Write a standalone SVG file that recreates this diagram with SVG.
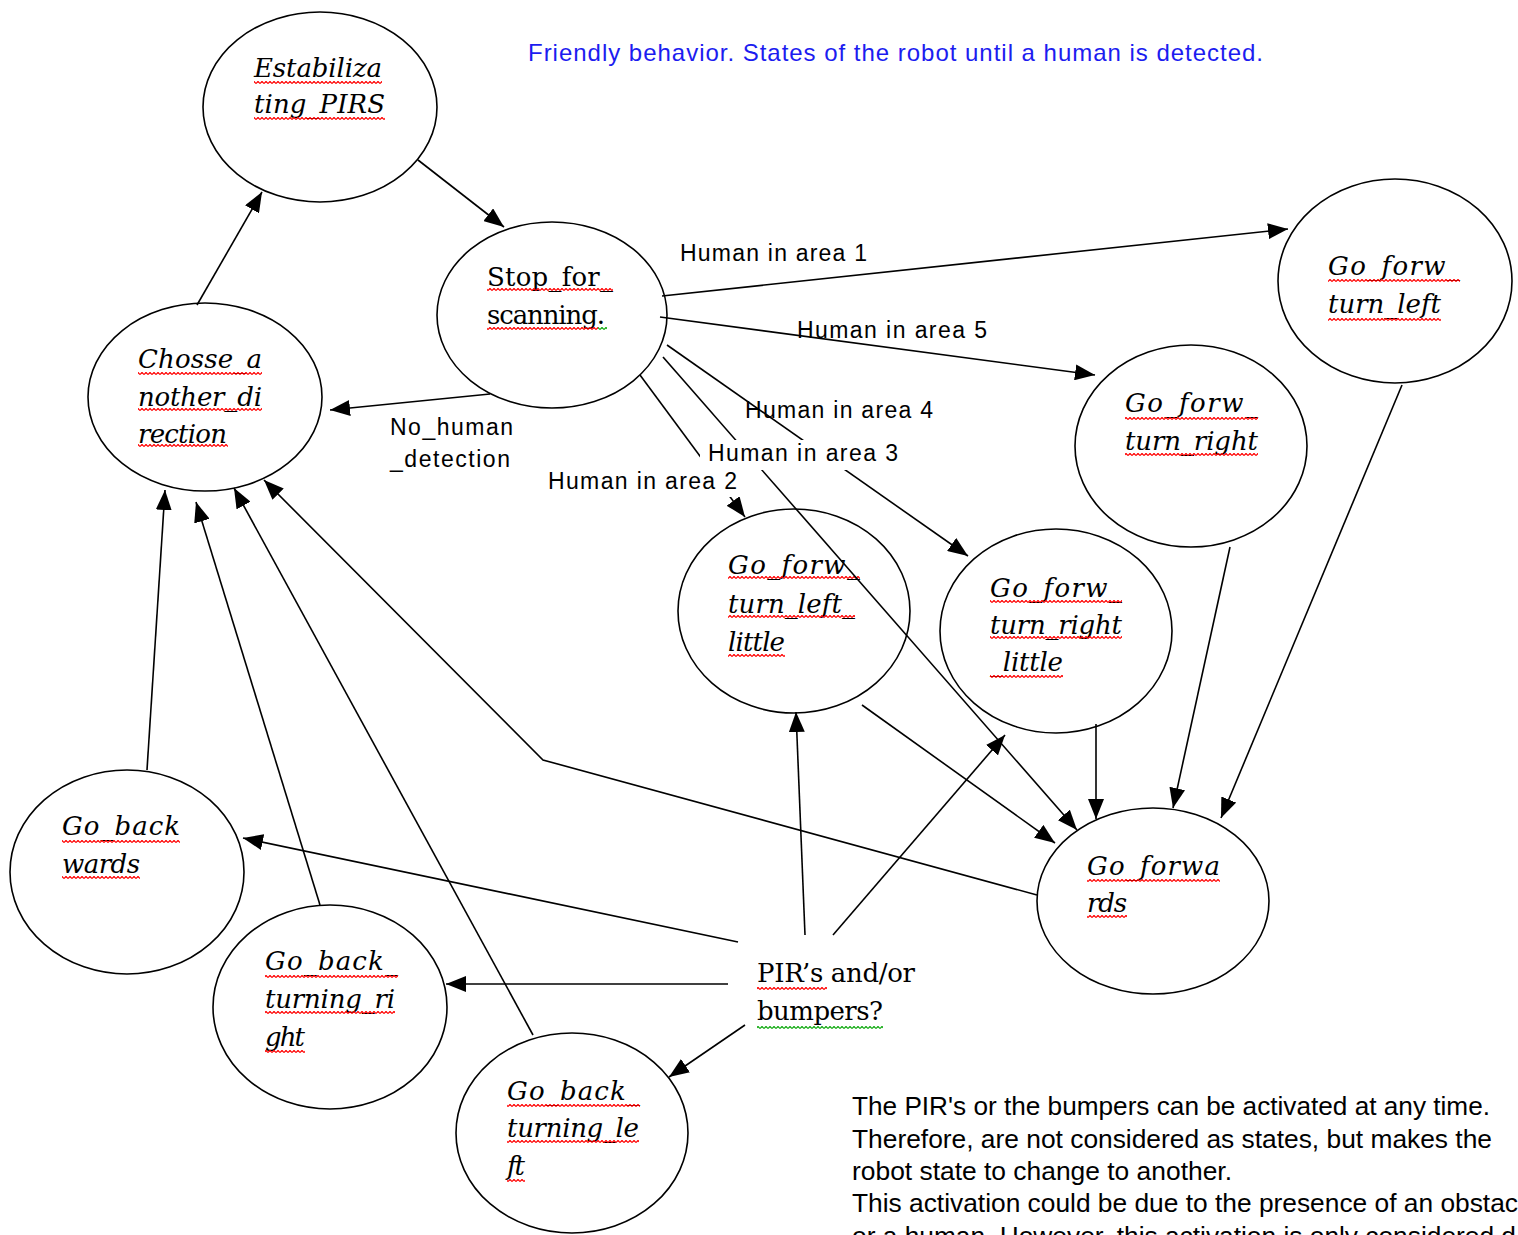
<svg xmlns="http://www.w3.org/2000/svg" width="1518" height="1235" viewBox="0 0 1518 1235">
<style>
.el{fill:#fff;stroke:#000;stroke-width:1.6}
.nt{font-family:"DejaVu Serif","Liberation Serif",serif;font-style:italic;font-size:26px;fill:#000}
.ns{font-family:"DejaVu Serif","Liberation Serif",serif;font-size:26px;fill:#000}
.lb{font-family:"Liberation Sans",Arial,sans-serif;font-size:23px;fill:#000}
.nb{font-family:"Liberation Sans",Arial,sans-serif;font-size:26px;fill:#000}
.ti{font-family:"Liberation Sans",Arial,sans-serif;font-size:24px;fill:#1c1cf0}
.cn{stroke:#000;stroke-width:1.6;fill:none;marker-end:url(#ah)}
.sq{fill:url(#sqr)}
.sg{fill:url(#sqg)}
.bg{fill:#fff}
</style>
<defs>
<marker id="ah" markerUnits="userSpaceOnUse" markerWidth="20" markerHeight="16" refX="20" refY="8" orient="auto">
<path d="M0,0 L20,8 L0,16 Z" fill="#000"/>
</marker>
<pattern id="sqr" width="4" height="3" patternUnits="userSpaceOnUse">
<path d="M0,2.6 L2,0.4 L4,2.6" fill="none" stroke="#f00" stroke-width="1.2"/>
</pattern>
<pattern id="sqg" width="4" height="3" patternUnits="userSpaceOnUse">
<path d="M0,2.6 L2,0.4 L4,2.6" fill="none" stroke="#1a1" stroke-width="1.2"/>
</pattern>
</defs>
<rect width="1518" height="1235" fill="#fff"/>

<g id="n-estabilizating">
<ellipse class="el" cx="320" cy="107" rx="117" ry="95"/>
<text class="nt" x="254" y="77" textLength="128">Estabiliza</text>
<text class="nt" x="254" y="113" textLength="131">ting_PIRS</text>
<rect class="sq" x="254" y="81" width="128" height="3"/>
<rect class="sq" x="254" y="117" width="131" height="3"/>
</g>
<g id="n-stop">
<ellipse class="el" cx="552" cy="315" rx="115" ry="93"/>
<text class="ns" x="487" y="286" textLength="126">Stop_for_</text>
<text class="ns" x="487" y="324" textLength="118">scanning.</text>
<rect class="sq" x="487" y="288" width="126" height="3"/>
<rect class="sq" x="487" y="327" width="111" height="3"/>
<rect class="sg" x="598" y="327" width="9" height="3"/>
</g>
<g id="n-chosse">
<ellipse class="el" cx="205" cy="397" rx="117" ry="94"/>
<text class="nt" x="138" y="368" textLength="124">Chosse_a</text>
<text class="nt" x="138" y="406" textLength="124">nother_di</text>
<text class="nt" x="138" y="443" textLength="89">rection</text>
<rect class="sq" x="138" y="372" width="124" height="3"/>
<rect class="sq" x="138" y="408" width="124" height="3"/>
<rect class="sq" x="138" y="444" width="90" height="3"/>
</g>
<g id="n-fwd-left">
<ellipse class="el" cx="1395" cy="281" rx="117" ry="102"/>
<text class="nt" x="1328" y="275" textLength="132">Go_forw_</text>
<text class="nt" x="1328" y="313" textLength="113">turn_left</text>
<rect class="sq" x="1328" y="279" width="132" height="3"/>
<rect class="sq" x="1328" y="318" width="113" height="3"/>
</g>
<g id="n-fwd-right">
<ellipse class="el" cx="1191" cy="446" rx="116" ry="101"/>
<text class="nt" x="1125" y="412" textLength="133">Go_forw_</text>
<text class="nt" x="1125" y="450" textLength="133">turn_right</text>
<rect class="sq" x="1125" y="417" width="133" height="3"/>
<rect class="sq" x="1125" y="453" width="133" height="3"/>
</g>
<g id="n-fwd-left-little">
<ellipse class="el" cx="794" cy="611" rx="116" ry="102"/>
<text class="nt" x="728" y="574" textLength="132">Go_forw_</text>
<text class="nt" x="728" y="613" textLength="127">turn_left_</text>
<text class="nt" x="728" y="651" textLength="57">little</text>
<rect class="sq" x="728" y="576" width="132" height="3"/>
<rect class="sq" x="728" y="615" width="127" height="3"/>
<rect class="sq" x="728" y="654" width="57" height="3"/>
</g>
<g id="n-fwd-right-little">
<ellipse class="el" cx="1056" cy="631" rx="116" ry="102"/>
<text class="nt" x="990" y="597" textLength="132">Go_forw_</text>
<text class="nt" x="990" y="634" textLength="132">turn_right</text>
<text class="nt" x="990" y="671" textLength="73">_little</text>
<rect class="sq" x="990" y="600" width="132" height="3"/>
<rect class="sq" x="990" y="636" width="132" height="3"/>
<rect class="sq" x="990" y="675" width="73" height="3"/>
</g>
<g id="n-forwards">
<ellipse class="el" cx="1153" cy="901" rx="116" ry="93"/>
<text class="nt" x="1087" y="875" textLength="133">Go_forwa</text>
<text class="nt" x="1087" y="912" textLength="40">rds</text>
<rect class="sq" x="1087" y="879" width="133" height="3"/>
<rect class="sq" x="1087" y="915" width="40" height="3"/>
</g>
<g id="n-backwards">
<ellipse class="el" cx="127" cy="872" rx="117" ry="102"/>
<text class="nt" x="62" y="835" textLength="118">Go_back</text>
<text class="nt" x="62" y="873" textLength="78">wards</text>
<rect class="sq" x="62" y="840" width="118" height="3"/>
<rect class="sq" x="62" y="876" width="78" height="3"/>
</g>
<g id="n-back-right">
<ellipse class="el" cx="330" cy="1007" rx="117" ry="102"/>
<text class="nt" x="265" y="970" textLength="133">Go_back_</text>
<text class="nt" x="265" y="1008" textLength="130">turning_ri</text>
<text class="nt" x="265" y="1046" textLength="40">ght</text>
<rect class="sq" x="265" y="975" width="133" height="3"/>
<rect class="sq" x="265" y="1011" width="130" height="3"/>
<rect class="sq" x="265" y="1050" width="40" height="3"/>
</g>
<g id="n-back-left">
<ellipse class="el" cx="572" cy="1133" rx="116" ry="100"/>
<text class="nt" x="507" y="1100" textLength="133">Go_back_</text>
<text class="nt" x="507" y="1137" textLength="132">turning_le</text>
<text class="nt" x="507" y="1175" textLength="18">ft</text>
<rect class="sq" x="507" y="1104" width="133" height="3"/>
<rect class="sq" x="507" y="1140" width="132" height="3"/>
<rect class="sq" x="507" y="1179" width="18" height="3"/>
</g>

<g id="labels-under">
<text class="lb" x="797" y="338" textLength="190">Human in area 5</text>
<text class="lb" x="745" y="418" textLength="188">Human in area 4</text>
</g>

<g id="connectors">
<path class="cn" d="M418,160 L504,227"/>
<path class="cn" d="M197,305 L262,192"/>
<path class="cn" d="M490,394 L330,410"/>
<path class="cn" d="M662,296 L1288,229"/>
<path class="cn" d="M660,317 L1095,375"/>
<path class="cn" d="M667,345 L968,556"/>
<path class="cn" d="M663,357 L1077,830"/>
<path class="cn" d="M640,375 L745,517"/>
<path class="cn" d="M862,705 L1055,843"/>
<path class="cn" d="M1096,724 L1096,819"/>
<path class="cn" d="M1230,547 L1173,808"/>
<path class="cn" d="M1402,385 L1221,818"/>
<path class="cn" d="M1037,895 L543,760 L264,480"/>
<path class="cn" d="M147,770 L165,490"/>
<path class="cn" d="M320,905 L196,502"/>
<path class="cn" d="M533,1035 L234,488"/>
<path class="cn" d="M738,942 L243,838"/>
<path class="cn" d="M728,984 L446,984"/>
<path class="cn" d="M745,1025 L669,1077"/>
<path class="cn" d="M805,935 L796,712"/>
<path class="cn" d="M833,935 L1005,735"/>
</g>

<g id="labels">
<text class="lb" x="680" y="261" textLength="187">Human in area 1</text>
<rect class="bg" x="700" y="440" width="202" height="30"/>
<text class="lb" x="708" y="461" textLength="190">Human in area 3</text>
<rect class="bg" x="544" y="470" width="196" height="27"/>
<text class="lb" x="548" y="489" textLength="189">Human in area 2</text>
<text class="lb" x="390" y="435" textLength="123">No_human</text>
<text class="lb" x="390" y="467" textLength="120">_detection</text>
</g>

<g id="n-pir">
<text class="ns" x="757" y="982" textLength="158">PIR’s and/or</text>
<text class="ns" x="757" y="1020" textLength="126">bumpers?</text>
<rect class="sq" x="757" y="987" width="70" height="3"/>
<rect class="sg" x="757" y="1026" width="126" height="3"/>
</g>

<text class="ti" x="528" y="61" textLength="735">Friendly behavior. States of the robot until a human is detected.</text>

<g id="note">
<text class="nb" x="852" y="1115" textLength="638" lengthAdjust="spacingAndGlyphs">The PIR's or the bumpers can be activated at any time.</text>
<text class="nb" x="852" y="1148" textLength="640" lengthAdjust="spacingAndGlyphs">Therefore, are not considered as states, but makes the</text>
<text class="nb" x="852" y="1180" textLength="380" lengthAdjust="spacingAndGlyphs">robot state to change to another.</text>
<text class="nb" x="852" y="1212" textLength="666" lengthAdjust="spacingAndGlyphs">This activation could be due to the presence of an obstac</text>
<text class="nb" x="852" y="1245" textLength="664" lengthAdjust="spacingAndGlyphs">or a human. However, this activation is only considered d</text>
</g>
</svg>
